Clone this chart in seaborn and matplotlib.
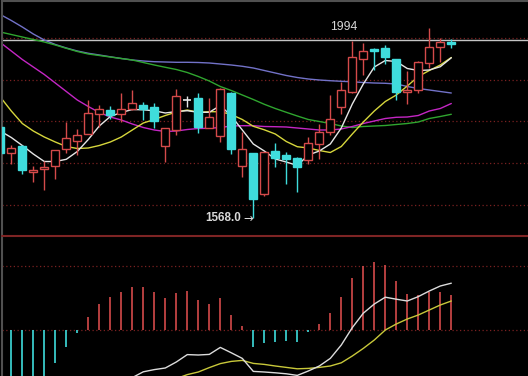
import numpy as np
import pandas as pd
import matplotlib
matplotlib.use("Agg")
import matplotlib.pyplot as plt
from matplotlib.lines import Line2D
import seaborn as sns

# ---------------- data ----------------
opens = [1785.7, 1723.3, 1740.8, 1677.7, 1684.4, 1692.8, 1732.9, 1752.1, 1770.8, 1816.4,
         1827.2, 1816.4, 1828.9, 1839.2, 1834.4, 1741.5, 1778.5, 1851.9, 1855.3, 1784.7,
         1765.5, 1868.0, 1692.1, 1723.3, 1626.3, 1727.6, 1719.9, 1711.3, 1707.2, 1745.6,
         1774.4, 1833.7, 1871.1, 1948.9, 1973.1, 1974.8, 1948.9, 1871.6, 1875.2, 1940.7,
         1979.1, 1990.4]
closes = [1723.3, 1736.0, 1683.9, 1683.2, 1689.7, 1731.2, 1759.3, 1766.5, 1819.3, 1828.9,
          1815.7, 1828.9, 1843.3, 1828.9, 1800.1, 1783.3, 1860.8, 1851.9, 1787.1, 1809.2,
          1876.9, 1732.4, 1732.4, 1613.6, 1727.1, 1712.7, 1710.3, 1689.7, 1747.3, 1773.7,
          1806.3, 1874.5, 1953.7, 1968.1, 1969.3, 1953.7, 1869.2, 1874.0, 1942.4, 1977.7,
          1989.7, 1984.4]
highs = [1791.2, 1743.2, 1743.2, 1692.8, 1704.8, 1732.0, 1797.7, 1780.9, 1851.2, 1839.2,
         1836.8, 1868.0, 1875.2, 1845.7, 1844.7, 1784.7, 1877.6, 1861.5, 1868.7, 1855.3,
         1878.8, 1871.1, 1773.7, 1723.3, 1727.1, 1747.3, 1725.2, 1715.1, 1761.7, 1793.6,
         1862.5, 1893.7, 1993.5, 1988.7, 1976.7, 1983.2, 1948.9, 1921.3, 1944.1, 2023.3,
         1999.3, 1997.1]
lows = [1716.8, 1696.9, 1672.9, 1655.1, 1635.9, 1662.8, 1723.3, 1718.5, 1768.9, 1787.1,
        1804.4, 1798.4, 1827.2, 1803.2, 1783.3, 1701.2, 1766.5, 1833.7, 1771.3, 1783.5,
        1751.1, 1720.4, 1667.1, 1568.0, 1621.5, 1690.4, 1648.9, 1631.1, 1697.6, 1708.9,
        1767.9, 1818.3, 1867.3, 1911.2, 1922.0, 1937.6, 1851.2, 1841.1, 1867.3, 1928.7,
        1941.2, 1976.0]

ma5 = [1776.8, 1761.2, 1742.0, 1721.6, 1703.6, 1703.6, 1708.9, 1727.6, 1756.4, 1788.8,
       1811.6, 1821.2, 1828.4, 1827.7, 1825.3, 1820.0, 1823.6, 1825.5, 1821.7, 1821.7,
       1838.0, 1812.8, 1779.2, 1745.6, 1728.8, 1709.6, 1702.4, 1694.0, 1719.2, 1728.8,
       1745.6, 1784.0, 1841.6, 1889.6, 1930.4, 1946.0, 1943.6, 1926.8, 1922.0, 1923.2,
       1931.1, 1952.5]
ma10 = [1858.4, 1824.8, 1794.8, 1776.8, 1762.4, 1750.4, 1739.6, 1734.8, 1736.0, 1742.0,
        1750.4, 1762.4, 1779.2, 1796.0, 1804.4, 1814.0, 1822.4, 1827.2, 1821.7, 1823.1,
        1823.1, 1816.4, 1804.4, 1788.1, 1779.7, 1769.6, 1751.6, 1739.1, 1736.0, 1730.0,
        1725.2, 1739.6, 1769.6, 1798.4, 1824.8, 1847.6, 1863.2, 1884.8, 1907.6, 1922.0,
        1935.2, 1953.2]
ma20 = [1989.2, 1968.8, 1948.4, 1930.4, 1912.4, 1892.0, 1871.6, 1851.2, 1835.6, 1821.2,
        1810.4, 1803.2, 1793.6, 1785.2, 1779.2, 1775.6, 1776.8, 1780.4, 1782.8, 1783.3,
        1785.2, 1788.8, 1789.5, 1789.5, 1787.6, 1787.1, 1786.4, 1784.0, 1781.6, 1779.2,
        1779.2, 1781.6, 1787.6, 1794.8, 1800.8, 1806.8, 1809.7, 1810.4, 1814.0, 1824.8,
        1830.8, 1842.8]
ma30 = [2014.4, 2008.4, 2002.4, 1996.4, 1990.4, 1983.2, 1975.3, 1967.6, 1961.6, 1958.0,
        1954.4, 1950.8, 1947.2, 1941.2, 1935.2, 1929.7, 1924.4, 1917.2, 1907.6, 1896.8,
        1883.6, 1874.0, 1863.2, 1852.4, 1840.9, 1830.8, 1821.7, 1812.8, 1804.4, 1799.6,
        1794.8, 1788.8, 1785.2, 1787.6, 1788.8, 1790.0, 1792.4, 1794.8, 1798.4, 1806.8,
        1811.6, 1816.9]
ma60 = [2056.4, 2042.0, 2026.4, 2009.6, 1995.2, 1984.4, 1976.0, 1968.8, 1963.3, 1959.2,
        1954.9, 1950.8, 1947.2, 1944.8, 1943.1, 1942.4, 1941.7, 1941.7, 1941.2, 1940.0,
        1937.6, 1935.2, 1932.1, 1928.0, 1922.0, 1916.0, 1910.0, 1905.2, 1901.6, 1899.2,
        1897.5, 1896.1, 1894.9, 1893.2, 1892.0, 1891.3, 1889.6, 1883.6, 1878.8, 1875.2,
        1871.6, 1868.0]

macd_hist = [-28.0, -30.0, -31.0, -29.0, -25.0, -16.7, -8.7, -1.7, 6.4, 13.0,
             16.7, 19.2, 21.5, 21.5, 19.2, 16.0, 18.7, 19.5, 15.0, 13.0,
             16.0, 7.5, 2.0, -8.4, -6.7, -6.2, -5.4, -5.9, -1.2, 3.0,
             8.4, 16.7, 25.9, 32.0, 34.0, 32.5, 24.5, 18.0, 17.4, 19.2,
             19.2, 17.5]
dif = [None] * 12 + [-23.8, -20.9, -19.8, -19.0, -16.0, -12.3, -12.5, -12.2, -8.7, -11.4,
                     -14.2, -20.7, -21.0, -21.4, -21.9, -22.7, -20.5, -18.0, -14.2, -7.5,
                     1.2, 8.4, 13.0, 16.4, 15.4, 14.5, 16.7, 19.5, 22.0, 23.4]
dea = [None] * 16 + [-24.3, -22.3, -21.0, -18.8, -16.8, -15.7, -15.2, -16.7, -17.2, -18.0,
                     -18.7, -19.4, -19.2, -18.7, -18.0, -16.4, -13.0, -9.2, -5.0, 0.0,
                     3.0, 5.5, 7.5, 10.0, 12.5, 14.5]

price_grid = [2000, 1900, 1800, 1700, 1600]
macd_grid = [0, 32]
line_level = 1994
line_label = "1994"
low_value = 1568.0
low_label = "1568.0"
low_arrow = "→"

# ---------------- styling ----------------
sns.set_style("dark", {"axes.facecolor": "black", "figure.facecolor": "black",
                       "axes.edgecolor": "#555555"})
plt.rcParams['font.family'] = ['Liberation Sans', 'DejaVu Sans']

UP = '#d44a4a'
DOWN = '#3fdcdc'
GRID = '#7a2020'

W, H = 528, 376
fig = plt.figure(figsize=(W / 100, H / 100), dpi=100, facecolor='black')
ax = fig.add_axes([1.5 / W, (H - 235.5) / H, 1 - 1.5 / W, 234.5 / H])
ax2 = fig.add_axes([1.5 / W, 0, 1 - 1.5 / W, (H - 235.5) / H])

n = len(opens)
idx = np.arange(n)
xlim = ((1.5 - 0.3) / 11, (W - 0.3) / 11)

# ---------------- main (candles + MAs) ----------------
for v in price_grid:
    ax.axhline(v, color=GRID, ls=(0, (1, 2)), lw=0.9, zorder=0)
ax.axhline(line_level, color='#c4c4c4', lw=1.0, zorder=1)

ma_df = pd.concat([
    pd.DataFrame({'i': idx, 'v': ma60, 'ma': 'MA60'}),
    pd.DataFrame({'i': idx, 'v': ma30, 'ma': 'MA30'}),
    pd.DataFrame({'i': idx, 'v': ma20, 'ma': 'MA20'}),
    pd.DataFrame({'i': idx, 'v': ma10, 'ma': 'MA10'}),
    pd.DataFrame({'i': idx, 'v': ma5, 'ma': 'MA5'}),
])
pal = {'MA5': '#e6e6e6', 'MA10': '#d6d63c', 'MA20': '#c426c4',
       'MA30': '#2fa52f', 'MA60': '#7272c8'}
sns.lineplot(data=ma_df, x='i', y='v', hue='ma', palette=pal, lw=1.0,
             legend=False, ax=ax, zorder=2, sort=False, estimator=None)

bw = 0.74
for i in range(n):
    o, c, h, l = opens[i], closes[i], highs[i], lows[i]
    if c > o:
        col, face = UP, 'black'
    elif c < o:
        col, face = DOWN, DOWN
    else:
        col, face = '#e8e8e8', '#e8e8e8'
    ax.vlines(i, l, h, color=col, lw=1.0, zorder=3)
    if c == o:
        ax.hlines(o, i - bw / 2, i + bw / 2, color=col, lw=1.2, zorder=4)
    else:
        ax.bar(i, abs(c - o), bottom=min(o, c), width=bw, color=face,
               edgecolor=col, lw=1.0, zorder=4)

ax.text((344 - 0.3) / 11, 2025.7, line_label, color='#d8d8d8', fontsize=8.8,
        ha='center', va='center')
low_i = int(np.argmin(lows))
ax.annotate(low_arrow, xy=(low_i, low_value), xytext=(-0.3, 0), textcoords='offset points',
            color='#d8d8d8', fontsize=8.4, family=['DejaVu Sans'],
            ha='right', va='center')
ax.annotate(low_label, xy=(low_i, low_value), xytext=(-9.2, 0), textcoords='offset points',
            color='#d8d8d8', fontsize=8.4, fontweight='bold', ha='right', va='center')

ax.set_xlim(*xlim)
ax.set_ylim(2091.2 - 2.4 * 235.5, 2091.2 - 2.4 * 1)
ax.set_xticks([]); ax.set_yticks([])
ax.set_xlabel(''); ax.set_ylabel('')
for s in ['top', 'left']:
    ax.spines[s].set_color('#505050'); ax.spines[s].set_linewidth(1.5)
for s in ['bottom', 'right']:
    ax.spines[s].set_visible(False)

# ---------------- MACD ----------------
for v in macd_grid:
    ax2.axhline(v, color=GRID, ls=(0, (1, 2)), lw=0.9, zorder=0)
for i in range(n):
    hv = macd_hist[i]
    ax2.vlines(i, 0, hv, color=UP if hv > 0 else DOWN, lw=1.2, zorder=2)

macd_df = pd.concat([
    pd.DataFrame({'i': idx, 'v': pd.array(dea, dtype='Float64'), 's': 'DEA'}),
    pd.DataFrame({'i': idx, 'v': pd.array(dif, dtype='Float64'), 's': 'DIF'}),
]).dropna()
macd_df['v'] = macd_df['v'].astype(float)
sns.lineplot(data=macd_df, x='i', y='v', hue='s',
             palette={'DIF': '#dcdcdc', 'DEA': '#c8c83a'}, lw=1.0,
             legend=False, ax=ax2, zorder=3, sort=False, estimator=None)

ax2.set_xlim(*xlim)
ax2.set_ylim((330 - 376) * 0.5, (330 - 235.5) * 0.5)
ax2.set_xticks([]); ax2.set_yticks([])
ax2.set_xlabel(''); ax2.set_ylabel('')
ax2.spines['left'].set_color('#505050'); ax2.spines['left'].set_linewidth(1.5)
for s in ['top', 'right', 'bottom']:
    ax2.spines[s].set_visible(False)

# solid red separator between the two panels
sep_y = (H - 235.5) / H
fig.add_artist(Line2D([1.5 / W, 1], [sep_y, sep_y], transform=fig.transFigure,
                      color='#7e2424', lw=1.5, zorder=10))

fig.savefig('out.png', dpi=100, facecolor='black')
